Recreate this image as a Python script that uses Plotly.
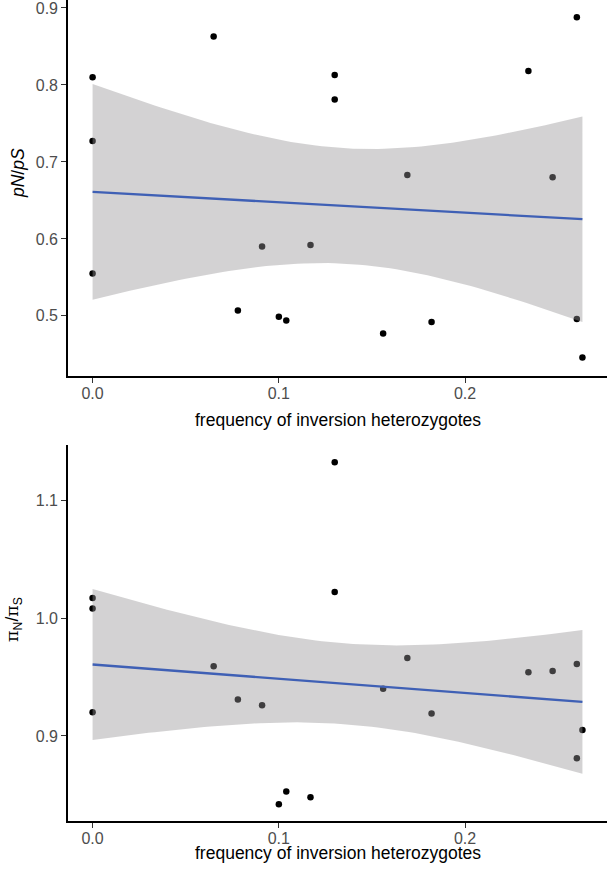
import numpy as np
import plotly.graph_objects as go
from plotly.subplots import make_subplots

# frequency of inversion heterozygotes
freq = [0.0, 0.0, 0.0, 0.065, 0.078, 0.091, 0.100, 0.104, 0.117, 0.130, 0.130,
        0.156, 0.169, 0.182, 0.234, 0.247, 0.260, 0.260, 0.263]
# pN/pS (top panel)
pnps = [0.810, 0.727, 0.555, 0.863, 0.507, 0.590, 0.499, 0.494, 0.592, 0.813, 0.781,
        0.477, 0.683, 0.492, 0.818, 0.680, 0.888, 0.496, 0.446]
# piN/piS (bottom panel)
pipi = [1.017, 1.008, 0.920, 0.959, 0.931, 0.926, 0.842, 0.853, 0.848, 1.132, 1.022,
        0.940, 0.966, 0.919, 0.954, 0.955, 0.961, 0.881, 0.905]

x_ticks = [0.0, 0.1, 0.2]
x_tick_labels = ["0.0", "0.1", "0.2"]
top_ticks = [0.5, 0.6, 0.7, 0.8, 0.9]
top_tick_labels = ["0.5", "0.6", "0.7", "0.8", "0.9"]
bot_ticks = [0.9, 1.0, 1.1]
bot_tick_labels = ["0.9", "1.0", "1.1"]

T975_DF17 = 2.109816  # t quantile for 95% CI, n-2 = 17 df


def lm_fit(x, y):
    x = np.asarray(x, float)
    y = np.asarray(y, float)
    n = len(x)
    b1, b0 = np.polyfit(x, y, 1)
    resid = y - (b0 + b1 * x)
    s = np.sqrt(np.sum(resid ** 2) / (n - 2))
    xbar = x.mean()
    sxx = np.sum((x - xbar) ** 2)
    xs = np.linspace(x.min(), x.max(), 80)
    yh = b0 + b1 * xs
    se = s * np.sqrt(1.0 / n + (xs - xbar) ** 2 / sxx)
    return xs, yh, yh - T975_DF17 * se, yh + T975_DF17 * se


fig = make_subplots(rows=2, cols=1, vertical_spacing=0.084)

FILL = "rgba(150,148,150,0.42)"
LINE = "#3F60B5"

for row, yv in [(1, pnps), (2, pipi)]:
    fig.add_trace(go.Scatter(x=freq, y=yv, mode="markers",
                             marker=dict(color="black", size=6.5),
                             showlegend=False, hoverinfo="skip"), row=row, col=1)
    xs, yh, lo, hi = lm_fit(freq, yv)
    fig.add_trace(go.Scatter(x=np.concatenate([xs, xs[::-1]]),
                             y=np.concatenate([hi, lo[::-1]]),
                             fill="toself", fillcolor=FILL, mode="lines",
                             line=dict(width=0), showlegend=False,
                             hoverinfo="skip"), row=row, col=1)
    fig.add_trace(go.Scatter(x=xs, y=yh, mode="lines",
                             line=dict(color=LINE, width=2.3),
                             showlegend=False, hoverinfo="skip"), row=row, col=1)

axis_common = dict(showline=True, linecolor="black", linewidth=1.6,
                   ticks="outside", ticklen=5, tickwidth=1.4, tickcolor="#333333",
                   showgrid=False, zeroline=False, ticklabeloverflow="allow",
                   tickfont=dict(family="Liberation Sans, Arial, sans-serif",
                                 size=16, color="#4D4D4D"))

fig.update_xaxes(**axis_common, range=[-0.0132, 0.2762], tickvals=x_ticks,
                 ticktext=x_tick_labels, ticklabelstandoff=-3)
fig.update_yaxes(**axis_common)
fig.update_yaxes(range=[0.4219, 0.9103], tickvals=top_ticks,
                 ticktext=top_tick_labels, row=1, col=1)
fig.update_yaxes(range=[0.8279, 1.1467], tickvals=bot_ticks,
                 ticktext=bot_tick_labels, row=2, col=1)

title_font = dict(family="Liberation Sans, Arial, sans-serif", size=17.5, color="black")
fig.update_layout(
    width=610, height=874,
    margin=dict(l=68, r=3, t=0, b=53),
    plot_bgcolor="white", paper_bgcolor="white",
    annotations=[
        dict(text="frequency of inversion heterozygotes", xref="paper", yref="paper",
             x=0.5, y=0.489, showarrow=False, font=title_font,
             xanchor="center", yanchor="middle"),
        dict(text="frequency of inversion heterozygotes", xref="paper", yref="paper",
             x=0.5, y=-0.039, showarrow=False, font=title_font,
             xanchor="center", yanchor="middle"),
        dict(text="<i>pN</i>/<i>pS</i>", xref="paper", yref="paper",
             x=-0.093, y=0.789, showarrow=False, font=title_font, textangle=-90,
             xanchor="center", yanchor="middle"),
        dict(text="<span style='font-family:DejaVu Serif'>π</span><sub>N</sub>"
                  "/<span style='font-family:DejaVu Serif'>π</span><sub>S</sub>",
             xref="paper", yref="paper",
             x=-0.1, y=0.245, showarrow=False, font=title_font,
             textangle=-90, xanchor="center", yanchor="middle"),
    ],
)

fig.write_html("out.html", config={"displayModeBar": False},
               post_script="document.body.style.margin='0px';")
